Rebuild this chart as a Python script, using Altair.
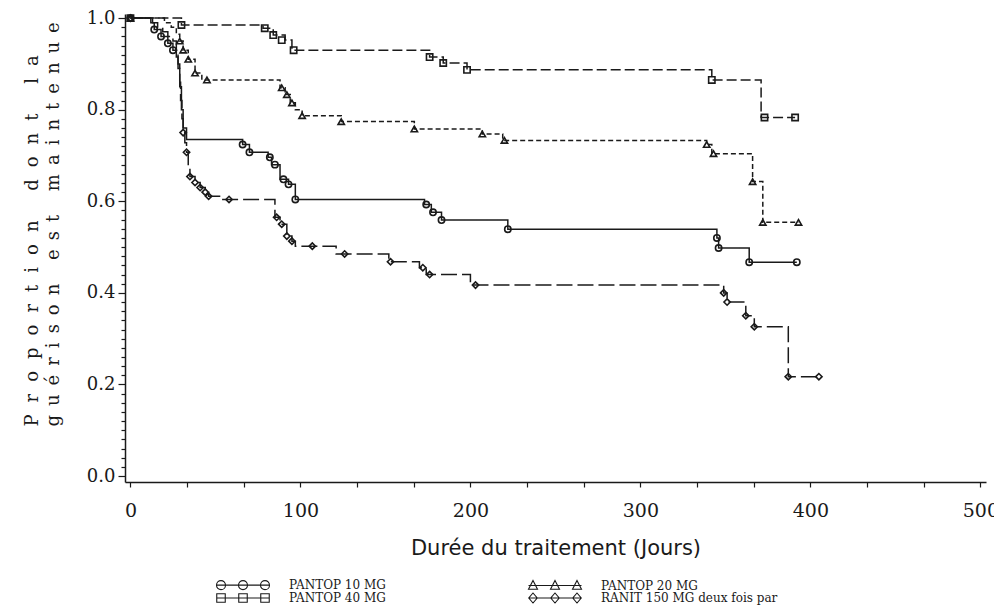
import altair as alt
import pandas as pd

# ---------------- data ----------------
groups = ["PANTOP 10 MG", "PANTOP 20 MG", "PANTOP 40 MG", "RANIT 150 MG deux fois par"]
legend_order = ["PANTOP 10 MG", "PANTOP 40 MG", "PANTOP 20 MG", "RANIT 150 MG deux fois par"]

# Kaplan-Meier step curves (day, proportion) : step-after
p10_t = [0, 12, 14, 18, 22, 25, 27, 28, 29, 30, 31, 33, 66, 70, 81, 83, 88, 93, 97,
         173, 177, 183, 222, 345, 346, 364, 392]
p10_s = [1.0, 0.99, 0.975, 0.96, 0.945, 0.93, 0.915, 0.89, 0.85, 0.80, 0.76, 0.735, 0.724,
         0.707, 0.696, 0.68, 0.648, 0.637, 0.604, 0.593, 0.576, 0.559, 0.539, 0.52, 0.498,
         0.467, 0.467]

p20_t = [0, 20, 24, 27, 29, 31, 34, 38, 42, 88, 91, 94, 97, 101, 124, 167, 207, 219,
         339, 342, 366, 372, 393]
p20_s = [1.0, 0.99, 0.98, 0.965, 0.95, 0.93, 0.91, 0.88, 0.865, 0.848, 0.833, 0.815, 0.80,
         0.787, 0.774, 0.758, 0.747, 0.733, 0.724, 0.704, 0.643, 0.554, 0.554]

p40_t = [0, 30, 78, 84, 91, 95, 176, 184, 198, 342, 371, 391]
p40_s = [1.0, 0.985, 0.978, 0.963, 0.952, 0.930, 0.915, 0.902, 0.887, 0.865, 0.783, 0.783]

ran_t = [0, 13, 16, 19, 22, 25, 27, 28, 29, 29.5, 30.3, 31, 32, 33, 34, 35, 38, 41, 44, 46,
         53, 85, 88, 92, 95, 97, 121, 152, 170, 174, 200, 349, 351, 362, 367, 387, 405]
ran_s = [1.0, 0.99, 0.98, 0.97, 0.96, 0.95, 0.93, 0.90, 0.86, 0.82, 0.78, 0.75, 0.728, 0.707,
         0.676, 0.654, 0.641, 0.63, 0.62, 0.611, 0.604, 0.565, 0.55, 0.524, 0.513, 0.502,
         0.485, 0.468, 0.455, 0.44, 0.417, 0.40, 0.38, 0.35, 0.326, 0.217, 0.217]

# censored observations (day, proportion)
p10_ct = [0, 14, 18, 22, 25, 66, 70, 82, 85, 90, 93, 97, 174, 178, 183, 222, 345, 346, 364, 392]
p10_cs = [1.0, 0.975, 0.96, 0.945, 0.93, 0.724, 0.707, 0.696, 0.68, 0.648, 0.637, 0.604,
          0.593, 0.576, 0.559, 0.539, 0.52, 0.498, 0.467, 0.467]

p20_ct = [0, 29, 31, 34, 38, 45, 89, 92, 95, 101, 124, 167, 207, 220, 339, 343, 366, 372, 393]
p20_cs = [1.0, 0.95, 0.93, 0.91, 0.88, 0.865, 0.848, 0.833, 0.815, 0.787, 0.774, 0.758,
          0.747, 0.733, 0.724, 0.704, 0.643, 0.554, 0.554]

p40_ct = [0, 30, 79, 84, 89, 96, 176, 184, 198, 342, 373, 391]
p40_cs = [1.0, 0.985, 0.978, 0.963, 0.952, 0.93, 0.915, 0.902, 0.887, 0.865, 0.783, 0.783]

ran_ct = [0, 31, 33, 35, 38, 41, 44, 46, 58, 86, 89, 92, 95, 107, 126, 153, 172, 176, 203,
          349, 351, 362, 367, 387, 405]
ran_cs = [1.0, 0.75, 0.707, 0.654, 0.641, 0.63, 0.62, 0.611, 0.604, 0.565, 0.55, 0.524,
          0.513, 0.502, 0.485, 0.468, 0.455, 0.44, 0.417, 0.40, 0.38, 0.35, 0.326, 0.217, 0.217]

x_ticks = [round(i * 100 / 3, 4) for i in range(16)]
y_ticks = [round(i * 0.02, 2) for i in range(51)]

# ---------------- tables ----------------
curves = [(p10_t, p10_s), (p20_t, p20_s), (p40_t, p40_s), (ran_t, ran_s)]
cens = [(p10_ct, p10_cs), (p20_ct, p20_cs), (p40_ct, p40_cs), (ran_ct, ran_cs)]

steps = pd.DataFrame(
    [{"group": g, "t": t, "s": s} for g, (ts, ss) in zip(groups, curves) for t, s in zip(ts, ss)]
)
marks = pd.DataFrame(
    [{"group": g, "t": t, "s": s} for g, (ts, ss) in zip(groups, cens) for t, s in zip(ts, ss)]
)

# ---------------- styles ----------------
serif = "DejaVu Serif"
sans = "DejaVu Sans"
ink = "#1a1a1a"

dash_range = [[1, 0], [5, 3], [10, 4], [16, 5]]
shape_range = ["circle", "triangle-up", "square", "diamond"]


def legend_path(kind):
    centers = [-4.4, 0.0, 4.4]
    p = "M-5.3,0H5.3"
    for c in centers:
        if kind == "circle":
            p += f"M{c-0.9},0A0.9,0.9 0 1,0 {c+0.9},0A0.9,0.9 0 1,0 {c-0.9},0Z"
        elif kind == "square":
            p += f"M{c-0.85},-0.85H{c+0.85}V0.85H{c-0.85}Z"
        elif kind == "triangle":
            p += f"M{c},-1L{c+0.9},0.75L{c-0.9},0.75Z"
        else:
            p += f"M{c},-1L{c+0.85},0L{c},1L{c-0.85},0Z"
    return p


legend_shapes = [legend_path(k) for k in ["circle", "square", "triangle", "diamond"]]

x_scale = alt.Scale(domain=[-3.2, 503.3], nice=False, zero=False)
y_scale = alt.Scale(domain=[-0.013, 1.009], nice=False, zero=False)

y_major = "abs(datum.value*5 - round(datum.value*5)) < 0.001"

x_enc = alt.X(
    "t:Q",
    scale=x_scale,
    axis=alt.Axis(
        values=x_ticks,
        tickCount=100,
        labelExpr="datum.value % 100 === 0 ? datum.label : ''",
        labelOverlap=False,
        labelFont=serif,
        labelFontSize=19,
        labelPadding=14,
        tickSize=5,
        title="Durée du traitement (Jours)",
        titleFont=sans,
        titleFontSize=21,
        titleFontWeight="normal",
        titleY=55,
        titleBaseline="top",
    ),
)


def spaced(words, gap):
    return ("\u2002" + gap + " " + gap + "\u2002").join(
        ("\u2002" + gap).join(list(w)) for w in words
    )


ytitle = [
    spaced(["Proportion", "dont", "la"], "\u2006"),
    spaced(["guérison", "est", "maintenue"], ""),
]

y_enc = alt.Y(
    "s:Q",
    scale=y_scale,
    axis=alt.Axis(
        values=y_ticks,
        tickCount=100,
        labelExpr=f"{y_major} ? format(datum.value, '.1f') : ''",
        labelOverlap=False,
        labelFont=serif,
        labelFontSize={"condition": {"test": y_major, "value": 18}, "value": 0},
        labelPadding=3,
        tickSize={"condition": {"test": y_major, "value": 7}, "value": 4},
        title=ytitle,
        titleFont=serif,
        titleFontSize=18,
        titleFontWeight="normal",
        titleAngle=270,
        titleAlign="left",
        titleBaseline="middle",
        titleLineHeight=21,
        titleX=-93,
        titleY=412,
    ),
)

lines = alt.Chart(steps).mark_line(
    interpolate="step-after", color=ink, strokeWidth=1.5
).encode(
    x=x_enc,
    y=y_enc,
    strokeDash=alt.StrokeDash(
        "group:N", scale=alt.Scale(domain=groups, range=dash_range), legend=None
    ),
    detail="group:N",
)

points = alt.Chart(marks).mark_point(
    filled=False, color=ink, strokeWidth=1.6, size=40, opacity=1
).encode(
    x="t:Q",
    y="s:Q",
    shape=alt.Shape(
        "group:N", scale=alt.Scale(domain=groups, range=shape_range), legend=None
    ),
)

legend_layer = alt.Chart(marks).transform_filter("false").mark_point(
    filled=False, color=ink
).encode(
    x="t:Q",
    y="s:Q",
    shape=alt.Shape(
        "group:N",
        scale=alt.Scale(domain=legend_order, range=legend_shapes),
        legend=alt.Legend(
            title=None,
            orient="none",
            legendX=112,
            legendY=565,
            columns=2,
            columnPadding=140,
            rowPadding=-4,
            symbolSize=100,
            symbolStrokeWidth=1.1,
            symbolStrokeColor=ink,
            symbolFillColor="white",
            symbolOpacity=1,
            labelOffset=40,
            labelFont=serif,
            labelFontSize=12,
            labelColor=ink,
            labelLimit=400,
            padding=0,
        ),
    ),
)

chart = (
    alt.layer(lines, points, legend_layer)
    .resolve_scale(shape="independent")
    .resolve_legend(shape="independent")
    .properties(
        width=861,
        height=468,
        autosize=alt.AutoSizeParams(type="none"),
        padding={"left": 117, "top": 6, "right": 8, "bottom": 123},
        background="white",
    )
    .configure_view(stroke=None)
    .configure_axis(
        grid=False,
        domainColor=ink,
        domainWidth=1.5,
        tickColor=ink,
        tickWidth=1.2,
        labelColor=ink,
        titleColor=ink,
        labelOverlap=False,
    )
)

chart.save("out.html", embed_options={"renderer": "svg", "actions": False})
